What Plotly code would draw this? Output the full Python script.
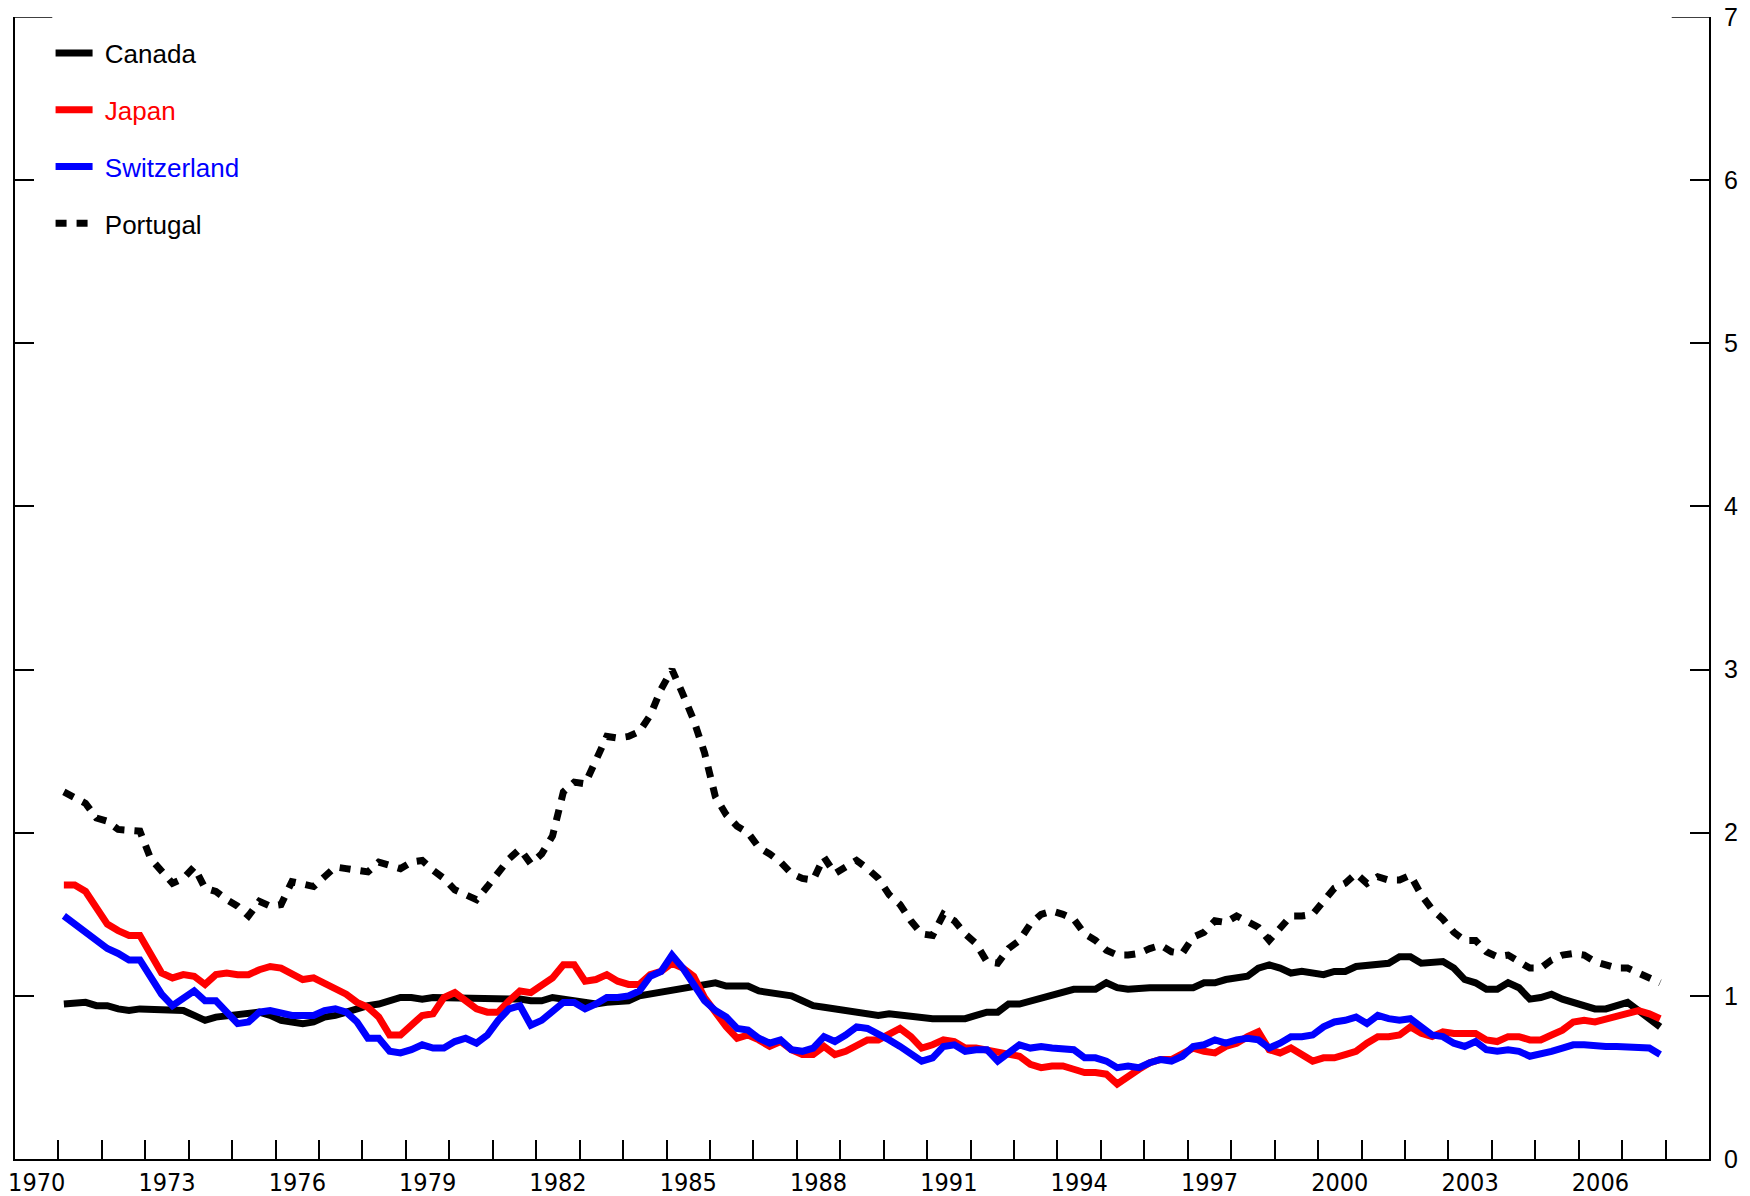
import plotly.graph_objects as go

# Quarterly observations, 1971Q1 .. 2007Q4
quarters = [f"{y}Q{q}" for y in range(1971, 2008) for q in range(1, 5)]

canada = [0.95,0.96,0.96,0.94,0.94,0.92,0.91,0.92,0.92,0.92,0.91,0.91,0.88,0.85,0.87,0.88,
          0.89,0.90,0.90,0.88,0.85,0.84,0.83,0.84,0.87,0.88,0.90,0.93,0.94,0.95,0.97,0.99,
          0.99,0.98,0.99,0.99,0.99,0.99,0.98,0.99,0.99,0.99,0.98,0.97,0.97,0.99,0.98,0.97,
          0.95,0.95,0.96,0.96,0.97,1.00,1.01,1.02,1.04,1.05,1.05,1.06,1.08,1.06,1.06,1.06,
          1.03,1.02,1.01,1.00,0.97,0.94,0.93,0.92,0.92,0.91,0.90,0.88,0.89,0.88,0.87,0.87,
          0.86,0.86,0.86,0.86,0.88,0.90,0.90,0.95,0.95,0.97,0.99,1.00,1.02,1.04,1.04,1.04,
          1.08,1.05,1.04,1.05,1.05,1.05,1.05,1.04,1.05,1.08,1.08,1.10,1.11,1.12,1.17,1.19,
          1.17,1.14,1.15,1.14,1.13,1.15,1.15,1.18,1.19,1.19,1.20,1.24,1.24,1.20,1.20,1.21,
          1.17,1.10,1.08,1.04,1.04,1.08,1.05,0.98,0.99,1.01,0.98,0.96,0.95,0.92,0.92,0.94,
          0.96,0.91,0.86,0.81]

japan = [1.68,1.68,1.64,1.53,1.44,1.40,1.37,1.37,1.26,1.14,1.11,1.13,1.12,1.07,1.13,1.14,
         1.13,1.13,1.16,1.18,1.17,1.14,1.10,1.11,1.08,1.04,1.01,0.96,0.93,0.87,0.76,0.76,
         0.82,0.88,0.89,0.99,1.02,0.97,0.92,0.90,0.90,0.97,1.03,1.02,1.07,1.11,1.19,1.19,
         1.09,1.10,1.13,1.09,1.07,1.07,1.13,1.15,1.20,1.17,1.12,0.99,0.90,0.81,0.74,0.76,
         0.73,0.69,0.72,0.67,0.64,0.64,0.69,0.64,0.66,0.70,0.73,0.73,0.76,0.80,0.75,0.68,
         0.70,0.73,0.72,0.68,0.68,0.67,0.65,0.64,0.63,0.58,0.56,0.57,0.57,0.55,0.53,0.53,
         0.52,0.46,0.51,0.55,0.59,0.61,0.61,0.64,0.68,0.66,0.65,0.69,0.71,0.75,0.78,0.67,
         0.65,0.68,0.64,0.60,0.62,0.62,0.64,0.66,0.71,0.75,0.75,0.76,0.81,0.77,0.75,0.78,
         0.77,0.77,0.77,0.73,0.72,0.75,0.75,0.73,0.73,0.76,0.79,0.84,0.85,0.84,0.86,0.88,
         0.90,0.91,0.89,0.86]

switzerland = [1.49,1.44,1.38,1.34,1.29,1.26,1.22,1.22,1.11,1.01,0.94,0.99,1.03,0.97,0.97,0.90,
               0.83,0.84,0.90,0.91,0.89,0.88,0.88,0.88,0.91,0.92,0.90,0.84,0.74,0.74,0.66,0.65,
               0.67,0.70,0.68,0.68,0.72,0.74,0.71,0.76,0.85,0.92,0.94,0.82,0.85,0.90,0.96,0.96,
               0.92,0.95,0.99,0.99,1.00,1.03,1.12,1.15,1.25,1.17,1.06,0.97,0.91,0.87,0.80,0.79,
               0.74,0.71,0.73,0.67,0.66,0.68,0.75,0.72,0.76,0.81,0.80,0.77,0.73,0.69,0.64,0.60,
               0.62,0.69,0.70,0.66,0.67,0.67,0.60,0.65,0.70,0.68,0.69,0.68,0.68,0.67,0.62,0.62,
               0.60,0.56,0.57,0.56,0.59,0.61,0.60,0.63,0.69,0.70,0.73,0.71,0.73,0.74,0.73,0.68,
               0.71,0.75,0.75,0.76,0.81,0.84,0.85,0.87,0.83,0.88,0.86,0.85,0.86,0.81,0.76,0.75,
               0.71,0.69,0.72,0.67,0.66,0.67,0.66,0.63,0.64,0.66,0.68,0.70,0.70,0.69,0.69,0.69,
               0.69,0.69,0.68,0.64]

portugal = [2.25,2.21,2.18,2.09,2.07,2.02,2.02,2.01,1.84,1.77,1.69,1.72,1.79,1.66,1.64,1.59,
            1.55,1.49,1.58,1.55,1.56,1.70,1.69,1.67,1.73,1.79,1.78,1.77,1.76,1.82,1.80,1.78,
            1.82,1.83,1.77,1.72,1.65,1.62,1.59,1.67,1.76,1.84,1.90,1.81,1.87,1.98,2.25,2.31,
            2.30,2.44,2.59,2.58,2.59,2.62,2.72,2.88,3.00,2.85,2.69,2.49,2.22,2.11,2.04,2.00,
            1.91,1.87,1.82,1.75,1.72,1.71,1.85,1.75,1.79,1.83,1.78,1.72,1.62,1.56,1.46,1.38,
            1.37,1.50,1.46,1.38,1.32,1.21,1.20,1.29,1.34,1.44,1.50,1.52,1.50,1.47,1.38,1.34,
            1.28,1.25,1.25,1.26,1.29,1.31,1.27,1.26,1.36,1.39,1.46,1.45,1.49,1.46,1.42,1.34,
            1.41,1.49,1.49,1.50,1.58,1.66,1.69,1.75,1.69,1.73,1.71,1.71,1.74,1.62,1.53,1.47,
            1.39,1.34,1.34,1.27,1.24,1.25,1.21,1.17,1.17,1.22,1.25,1.26,1.25,1.21,1.19,1.17,
            1.17,1.14,1.11,1.08]

year_labels = ["1970","1973","1976","1979","1982","1985","1988","1991","1994","1997","2000","2003","2006"]
y_ticks = [0, 1, 2, 3, 4, 5, 6, 7]

# decimal position of each quarter (mid-quarter)
x = [int(s[:4]) + (int(s[5]) - 0.5) / 4 for s in quarters]

series = [
    ("Canada", canada, "#000000", "solid"),
    ("Japan", japan, "#ff0000", "solid"),
    ("Switzerland", switzerland, "#0000ff", "solid"),
    ("Portugal", portugal, "#000000", "11px,10px"),
]

fig = go.Figure()
for name, vals, col, dash in series:
    fig.add_trace(go.Scatter(
        x=x, y=vals, mode="lines",
        name=f"<span style='color:{col}'>\u00a0{name}</span>",
        legendgroup=name,
        line=dict(color=col, width=7, dash=dash),
    ))

label_pos = [int(s) + 0.5 for s in year_labels]

fig.update_layout(
    width=1750, height=1196,
    margin=dict(l=15, r=41, t=17, b=37, autoexpand=False),
    paper_bgcolor="white", plot_bgcolor="white",
    showlegend=True,
    legend=dict(
        x=0.021, y=0.989, xanchor="left", yanchor="top",
        font=dict(family="Liberation Sans, Arial, sans-serif", size=26, color="black"),
        bgcolor="rgba(0,0,0,0)", borderwidth=0, tracegroupgap=20, itemwidth=37,
    ),
    xaxis=dict(
        range=[1970, 2009], showgrid=False, zeroline=False, automargin=False,
        showline=True, linecolor="black", linewidth=2,
        tickmode="array", tickvals=label_pos, ticktext=year_labels, ticks="",
        tickfont=dict(family="Liberation Sans Narrow, Arial Narrow, DejaVu Sans Condensed, sans-serif",
                      size=25, color="black"),
        minor=dict(tickmode="array", tickvals=list(range(1971, 2009)),
                   ticks="inside", ticklen=19, tickwidth=1.5, tickcolor="black", showgrid=False),
    ),
    yaxis=dict(
        range=[0, 7], side="right", showgrid=False, zeroline=False, automargin=False,
        showline=True, linecolor="black", linewidth=2, mirror="ticks",
        tickmode="array", tickvals=y_ticks, ticks="inside", ticklen=19, tickwidth=1.5,
        tickcolor="black", ticklabelstandoff=8,
        tickfont=dict(family="Liberation Sans, Arial, sans-serif", size=25, color="black"),
    ),
)

# longer tick marks at the top of both vertical axes
fig.add_shape(type="line", xref="paper", yref="y", x0=0, x1=0.022, y0=7, y1=7,
              line=dict(color="black", width=1.5))
fig.add_shape(type="line", xref="paper", yref="y", x0=0.978, x1=1, y0=7, y1=7,
              line=dict(color="black", width=1.5))

fig.write_html(
    "out.html",
    config={"displayModeBar": False},
    post_script="document.body.style.margin='0px';document.body.style.overflow='hidden';",
)
